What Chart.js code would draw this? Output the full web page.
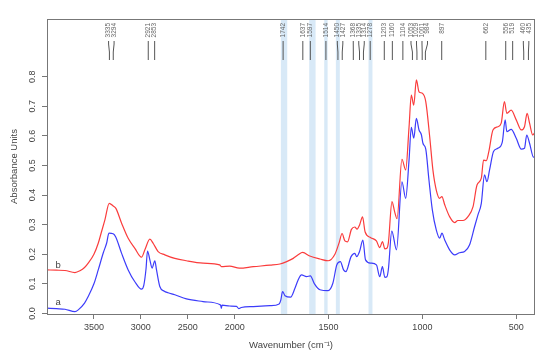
<!DOCTYPE html>
<html>
<head>
<meta charset="utf-8">
<script src="https://cdn.jsdelivr.net/npm/chart.js@4/dist/chart.umd.min.js"></script>
<style>
    body { margin: 0; background: #fff; }
    #wrap { width: 550px; height: 359px; }
</style>
</head>
<body>
<div id="wrap"><canvas id="ftir" width="550" height="359"></canvas></div>
<script>
// spectrum a (blue)
const waveA = [4000, 3900, 3808, 3702, 3667, 3600, 3561, 3500, 3454, 3400, 3365, 3340, 3295, 3269, 3205, 3135, 3064, 2993, 2968, 2945, 2929, 2904, 2880, 2851, 2833, 2798, 2750, 2710, 2638, 2514, 2337, 2160, 2148, 2142, 2135, 2053, 1990, 1978, 1965, 1901, 1812, 1763, 1754, 1745, 1732, 1702, 1679, 1662, 1644, 1617, 1597, 1575, 1546, 1502, 1477, 1456, 1437, 1420, 1408, 1380, 1360, 1350, 1335, 1317, 1303, 1275, 1245, 1227, 1213, 1200, 1189, 1181, 1163, 1138, 1109, 1089, 1071, 1059, 1046, 1032, 1018, 1005, 997, 982, 965, 947, 926, 908, 896, 881, 855, 828, 802, 775, 749, 722, 704, 686, 669, 656, 642, 621, 598, 574, 559, 550, 527, 500, 473, 456, 444, 429, 408, 403];
const absA = [0.018, 0.016, 0.014, 0.006, 0.012, 0.035, 0.057, 0.100, 0.147, 0.205, 0.237, 0.271, 0.269, 0.259, 0.203, 0.147, 0.107, 0.082, 0.096, 0.150, 0.211, 0.181, 0.153, 0.178, 0.147, 0.091, 0.075, 0.070, 0.063, 0.049, 0.040, 0.030, 0.026, 0.017, 0.028, 0.025, 0.024, 0.016, 0.020, 0.023, 0.026, 0.032, 0.046, 0.074, 0.060, 0.055, 0.085, 0.113, 0.130, 0.124, 0.127, 0.100, 0.080, 0.077, 0.102, 0.164, 0.175, 0.147, 0.141, 0.192, 0.203, 0.192, 0.209, 0.248, 0.181, 0.170, 0.164, 0.124, 0.158, 0.122, 0.124, 0.150, 0.278, 0.215, 0.445, 0.389, 0.519, 0.629, 0.592, 0.659, 0.620, 0.603, 0.575, 0.555, 0.451, 0.350, 0.282, 0.254, 0.271, 0.248, 0.215, 0.198, 0.205, 0.209, 0.231, 0.293, 0.333, 0.372, 0.468, 0.445, 0.485, 0.547, 0.558, 0.580, 0.654, 0.614, 0.622, 0.592, 0.555, 0.558, 0.603, 0.575, 0.528, 0.528];

// spectrum b (red)
const waveB = [4000, 3900, 3808, 3702, 3649, 3600, 3561, 3500, 3454, 3420, 3383, 3337, 3295, 3266, 3205, 3135, 3064, 2993, 2957, 2904, 2869, 2816, 2745, 2638, 2514, 2337, 2160, 2142, 2053, 1975, 1901, 1812, 1759, 1723, 1688, 1662, 1638, 1600, 1546, 1502, 1466, 1443, 1428, 1413, 1399, 1378, 1360, 1348, 1334, 1319, 1305, 1275, 1245, 1227, 1213, 1200, 1189, 1181, 1162, 1148, 1135, 1109, 1089, 1071, 1059, 1046, 1032, 1018, 1000, 982, 961, 944, 926, 908, 896, 881, 855, 828, 811, 784, 757, 730, 709, 686, 674, 660, 646, 624, 598, 580, 563, 550, 527, 500, 473, 456, 442, 429, 412, 403];
const absB = [0.147, 0.146, 0.145, 0.138, 0.144, 0.155, 0.170, 0.200, 0.237, 0.275, 0.316, 0.372, 0.363, 0.355, 0.305, 0.254, 0.220, 0.190, 0.215, 0.251, 0.237, 0.209, 0.198, 0.186, 0.178, 0.170, 0.164, 0.158, 0.160, 0.153, 0.158, 0.163, 0.167, 0.175, 0.186, 0.198, 0.206, 0.194, 0.184, 0.178, 0.200, 0.240, 0.270, 0.245, 0.242, 0.284, 0.292, 0.285, 0.300, 0.326, 0.275, 0.256, 0.245, 0.222, 0.243, 0.218, 0.220, 0.240, 0.378, 0.344, 0.320, 0.521, 0.485, 0.631, 0.738, 0.704, 0.789, 0.749, 0.744, 0.716, 0.597, 0.485, 0.417, 0.389, 0.395, 0.367, 0.327, 0.307, 0.314, 0.314, 0.327, 0.361, 0.434, 0.457, 0.518, 0.516, 0.547, 0.620, 0.631, 0.643, 0.716, 0.676, 0.687, 0.654, 0.620, 0.631, 0.676, 0.643, 0.603, 0.609];

const peakLabels = [3335, 3294, 2921, 2853, 1742, 1637, 1597, 1514, 1450, 1427, 1368, 1335, 1314, 1278, 1203, 1160, 1104, 1053, 1029, 1001, 984, 897, 662, 556, 519, 460, 435];
const bandFrom = [1754, 1603, 1523, 1461, 1287];
const bandTo = [1720, 1569, 1505, 1440, 1266];
const xTicks = [3500, 3000, 2500, 2000, 1500, 1000, 500];
const yTicks = [0, 0.1, 0.2, 0.3, 0.4, 0.5, 0.6, 0.7, 0.8];
const curveNames = ['a', 'b'];
const curveNameAt = [[3880, 0.036], [3880, 0.164]];

// above 2000 cm-1 the axis is compressed by half
const toAxis = w => w <= 2000 ? w : 2000 + (w - 2000) / 2;
const fromAxis = v => v <= 2000 ? v : 2000 + (v - 2000) * 2;

const FONT = '"Liberation Sans", Arial, sans-serif';

// spread overlapping peak labels, keeping each group centred on its peaks
function spreadLabels(xs, gap) {
    let groups = xs.map(x => ({ n: 1, sum: x, start: x }));
    let merged = true;
    while (merged) {
        merged = false;
        for (let i = 0; i < groups.length - 1; i++) {
            const a = groups[i], b = groups[i + 1];
            if (a.start + a.n * gap > b.start) {
                const n = a.n + b.n, sum = a.sum + b.sum;
                groups.splice(i, 2, { n, sum, start: sum / n - (n - 1) * gap / 2 });
                merged = true;
                break;
            }
        }
    }
    const out = [];
    groups.forEach(g => { for (let k = 0; k < g.n; k++) out.push(g.start + k * gap); });
    return out;
}

const decorPlugin = {
    id: 'decor',
    beforeDatasetsDraw(chart) {
        const { ctx, chartArea: a, scales: { x } } = chart;
        ctx.save();
        ctx.fillStyle = 'rgb(216, 233, 247)';
        bandFrom.forEach((w, i) => {
            const x1 = x.getPixelForValue(toAxis(w));
            const x2 = x.getPixelForValue(toAxis(bandTo[i]));
            ctx.fillRect(x1, a.top, x2 - x1, a.bottom - a.top);
        });
        ctx.restore();
    },
    afterDatasetsDraw(chart) {
        const { ctx, chartArea: a, scales: { x, y } } = chart;
        ctx.save();

        // frame
        ctx.strokeStyle = '#777';
        ctx.lineWidth = 1;
        ctx.strokeRect(a.left + 0.5, a.top + 0.5, a.right - a.left - 1, a.bottom - a.top);

        // peak markers
        const px = peakLabels.map(w => x.getPixelForValue(toAxis(w)));
        const lx = spreadLabels(px, 5.5);
        ctx.strokeStyle = '#555';
        ctx.fillStyle = '#666';
        ctx.font = '6.5px ' + FONT;
        peakLabels.forEach((w, i) => {
            ctx.save();
            ctx.translate(lx[i], a.top + 4);
            ctx.rotate(-Math.PI / 2);
            ctx.textAlign = 'right';
            ctx.textBaseline = 'middle';
            ctx.fillText(String(w), 0, 0);
            ctx.restore();
            ctx.beginPath();
            ctx.moveTo(lx[i], a.top + 22);
            ctx.lineTo(lx[i], a.top + 25);
            ctx.lineTo(px[i], a.top + 33);
            ctx.lineTo(px[i], a.top + 41);
            ctx.stroke();
        });

        // curve names
        ctx.fillStyle = '#444';
        ctx.font = '9.5px ' + FONT;
        ctx.textAlign = 'center';
        ctx.textBaseline = 'middle';
        curveNames.forEach((n, i) => {
            ctx.fillText(n, x.getPixelForValue(toAxis(curveNameAt[i][0])), y.getPixelForValue(curveNameAt[i][1]));
        });
        ctx.restore();
    }
};

new Chart(document.getElementById('ftir'), {
    type: 'line',
    data: {
        datasets: [
            {
                label: 'a',
                data: waveA.map((w, i) => ({ x: toAxis(w), y: absA[i] })),
                borderColor: 'rgb(60, 60, 250)',
                borderWidth: 1.2,
                pointRadius: 0,
                cubicInterpolationMode: 'monotone'
            },
            {
                label: 'b',
                data: waveB.map((w, i) => ({ x: toAxis(w), y: absB[i] })),
                borderColor: 'rgb(250, 60, 60)',
                borderWidth: 1.2,
                pointRadius: 0,
                cubicInterpolationMode: 'monotone'
            }
        ]
    },
    options: {
        responsive: false,
        animation: false,
        layout: { padding: { top: 19, right: 15, bottom: 0, left: 0 } },
        plugins: {
            legend: { display: false },
            tooltip: { enabled: false }
        },
        scales: {
            x: {
                type: 'linear',
                reverse: true,
                min: toAxis(400),
                max: toAxis(4000),
                afterBuildTicks: s => { s.ticks = xTicks.map(w => ({ value: toAxis(w) })); },
                afterFit: s => { s.height = 45; },
                border: { display: false },
                grid: { drawOnChartArea: false, drawTicks: true, tickLength: 5, color: '#777' },
                ticks: {
                    autoSkip: false,
                    maxRotation: 0,
                    padding: 3,
                    color: '#444',
                    font: { family: FONT, size: 9 },
                    callback: v => String(fromAxis(v))
                },
                title: {
                    display: true,
                    text: 'Wavenumber (cm\u207B\u00B9)',
                    color: '#444',
                    font: { family: FONT, size: 9.5 },
                    padding: { top: 0, bottom: 8 }
                }
            },
            y: {
                min: -0.002,
                max: 0.995,
                afterBuildTicks: s => { s.ticks = yTicks.map(v => ({ value: v })); },
                afterFit: s => { s.width = 47; },
                border: { display: false },
                grid: { drawOnChartArea: false, drawTicks: true, tickLength: 5, color: '#777' },
                ticks: {
                    minRotation: 90,
                    maxRotation: 90,
                    crossAlign: 'center',
                    padding: 3,
                    color: '#444',
                    font: { family: FONT, size: 9 },
                    callback: v => v.toFixed(1)
                },
                title: {
                    display: true,
                    text: 'Absorbance Units',
                    color: '#444',
                    font: { family: FONT, size: 9.5 },
                    padding: { top: 9, bottom: 0 }
                }
            }
        }
    },
    plugins: [decorPlugin]
});
</script>
</body>
</html>
